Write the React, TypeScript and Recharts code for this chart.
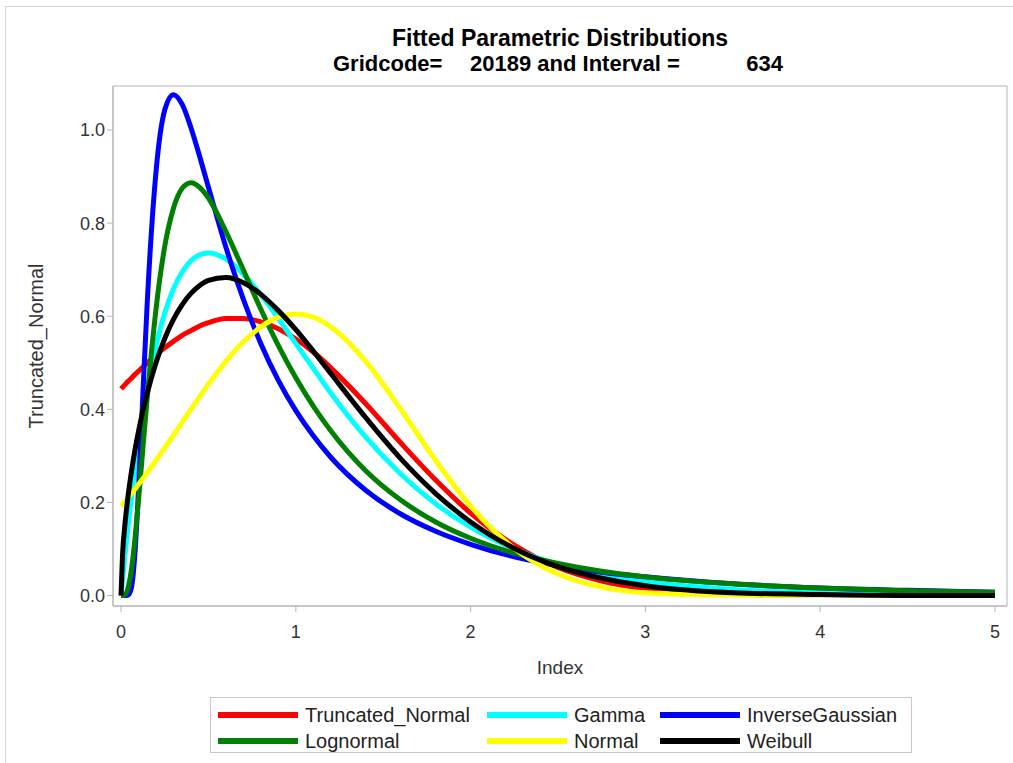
import React from 'react';
import { LineChart, Line, XAxis, YAxis, Legend, ReferenceArea } from 'recharts';

const X = [0, 0.01, 0.02, 0.04, 0.06, 0.08, 0.1, 0.125, 0.15, 0.2, 0.25, 0.3, 0.35, 0.4, 0.45, 0.5, 0.6, 0.7, 0.8, 0.9, 1.0, 1.1, 1.2, 1.4, 1.6, 1.8, 2.0, 2.25, 2.5, 2.75, 3.0, 3.5, 4.0, 4.5, 5.0];

const truncNormal = [0.444, 0.448, 0.452, 0.46, 0.467, 0.475, 0.482, 0.491, 0.5, 0.517, 0.532, 0.546, 0.559, 0.569, 0.579, 0.586, 0.595, 0.595, 0.588, 0.573, 0.551, 0.523, 0.489, 0.412, 0.328, 0.248, 0.177, 0.108, 0.06, 0.031, 0.015, 0.003, 0.0, 0.0, 0.0];
const gamma = [0, 0.039, 0.077, 0.148, 0.213, 0.273, 0.327, 0.389, 0.444, 0.536, 0.607, 0.659, 0.695, 0.719, 0.732, 0.736, 0.723, 0.69, 0.646, 0.595, 0.541, 0.488, 0.435, 0.34, 0.261, 0.197, 0.147, 0.1, 0.067, 0.045, 0.03, 0.013, 0.005, 0.002, 0.001];
const invGauss = [0, 0, 0.0, 0.001, 0.018, 0.093, 0.228, 0.433, 0.63, 0.91, 1.043, 1.076, 1.055, 1.005, 0.943, 0.877, 0.748, 0.636, 0.541, 0.462, 0.397, 0.343, 0.297, 0.226, 0.175, 0.138, 0.11, 0.083, 0.064, 0.05, 0.04, 0.025, 0.016, 0.011, 0.007];
const lognormal = [0, 0, 0.001, 0.016, 0.057, 0.123, 0.205, 0.316, 0.426, 0.615, 0.75, 0.832, 0.875, 0.887, 0.877, 0.854, 0.782, 0.699, 0.615, 0.537, 0.468, 0.407, 0.354, 0.268, 0.205, 0.158, 0.123, 0.091, 0.069, 0.052, 0.04, 0.025, 0.016, 0.01, 0.007];
const normal = [0.192, 0.196, 0.201, 0.21, 0.219, 0.229, 0.239, 0.251, 0.264, 0.29, 0.317, 0.344, 0.372, 0.4, 0.427, 0.454, 0.503, 0.545, 0.577, 0.598, 0.605, 0.598, 0.577, 0.503, 0.4, 0.29, 0.192, 0.101, 0.046, 0.018, 0.006, 0.001, 0.0, 0.0, 0.0];
const weibull = [0, 0.097, 0.144, 0.213, 0.267, 0.313, 0.353, 0.397, 0.435, 0.5, 0.552, 0.593, 0.625, 0.649, 0.666, 0.677, 0.683, 0.672, 0.647, 0.612, 0.571, 0.525, 0.477, 0.382, 0.294, 0.219, 0.158, 0.101, 0.062, 0.037, 0.021, 0.006, 0.002, 0.0, 0.0];

const xTicks = [0, 1, 2, 3, 4, 5];
const yTicks = [0, 0.2, 0.4, 0.6, 0.8, 1.0];

const seriesDefs = [
  { key: 'tn', name: 'Truncated_Normal', values: truncNormal, color: '#ff0000' },
  { key: 'ga', name: 'Gamma', values: gamma, color: '#00ffff' },
  { key: 'ig', name: 'InverseGaussian', values: invGauss, color: '#0000ff' },
  { key: 'ln', name: 'Lognormal', values: lognormal, color: '#008000' },
  { key: 'no', name: 'Normal', values: normal, color: '#ffff00' },
  { key: 'wb', name: 'Weibull', values: weibull, color: '#000000' },
];

const data = X.map((x, i) => {
  const row: Record<string, number> = { x };
  seriesDefs.forEach((s) => { row[s.key] = s.values[i]; });
  return row;
});

const FONT = '"Liberation Sans", Arial, sans-serif';
const X_DOMAIN: [number, number] = [-0.046, 5.069];
const Y_DOMAIN: [number, number] = [-0.0226, 1.0946];
const FRAME = '#b4b4b4';

const renderLegend = (props: any) => {
  const payload: any[] = props.payload || [];
  const ordered = seriesDefs
    .map((s) => payload.find((p) => p.value === s.name) || { value: s.name, color: s.color })
    .filter(Boolean);
  return (
    <div style={{ display: 'grid', gridTemplateColumns: '269px 173px 250px', padding: '4px 0 0 7px', fontFamily: FONT }}>
      {ordered.map((p: any) => (
        <div key={p.value} style={{ display: 'flex', alignItems: 'center', height: 26, whiteSpace: 'nowrap' }}>
          <span style={{ display: 'inline-block', flex: '0 0 80px', width: 80, height: 6, background: p.color, marginRight: 7 }} />
          <span style={{ fontSize: 20, color: '#222', lineHeight: '26px', whiteSpace: 'nowrap' }}>{p.value}</span>
        </div>
      ))}
    </div>
  );
};

export default function App() {
  return (
    <div style={{ position: 'absolute', left: 0, top: 0, width: 1013, height: 763, background: '#fff', overflow: 'hidden', fontFamily: FONT }}>
      <div style={{ position: 'absolute', left: 5, top: 6, width: 1020, height: 780, border: '1px solid #d4d4d4' }} />
      <svg style={{ position: 'absolute', left: 0, top: 0 }} width={1013} height={90}>
        <text x={560} y={46} textAnchor="middle" fontFamily={FONT} fontWeight="bold" fontSize={23} fill="#000">Fitted Parametric Distributions</text>
        <text x={333} y={71} textAnchor="start" fontFamily={FONT} fontWeight="bold" fontSize={22} fill="#000">Gridcode=</text>
        <text x={470} y={71} textAnchor="start" fontFamily={FONT} fontWeight="bold" fontSize={22} fill="#000">20189 and Interval =</text>
        <text x={783} y={71} textAnchor="end" fontFamily={FONT} fontWeight="bold" fontSize={22} fill="#000">634</text>
      </svg>
      <div style={{ position: 'absolute', left: 0, top: 0 }}>
        <LineChart width={1013} height={763} data={data} margin={{ top: 86, right: 6, bottom: 77, left: 0 }}>
          <XAxis
            dataKey="x"
            type="number"
            domain={X_DOMAIN}
            ticks={xTicks}
            allowDataOverflow
            height={80}
            tickSize={6}
            tickMargin={13}
            stroke={FRAME}
            tick={{ fill: '#333', fontSize: 18, fontFamily: FONT }}
            label={(p: any) => {
              const vb = p.viewBox || {};
              return (
                <text x={vb.x + vb.width / 2} y={674} textAnchor="middle" fontFamily={FONT} fontSize={19} fill="#333">Index</text>
              );
            }}
          />
          <YAxis
            type="number"
            domain={Y_DOMAIN}
            ticks={yTicks}
            allowDataOverflow
            width={113}
            tickSize={6}
            tickMargin={2}
            stroke={FRAME}
            tickFormatter={(v: number) => v.toFixed(1)}
            tick={{ fill: '#333', fontSize: 18, fontFamily: FONT }}
            label={(p: any) => {
              const vb = p.viewBox || {};
              const cx = 36;
              const cy = vb.y + vb.height / 2;
              return (
                <text x={cx} y={cy} transform={`rotate(-90 ${cx} ${cy})`} textAnchor="middle" dominantBaseline="central" fontFamily={FONT} fontSize={20} fill="#333">Truncated_Normal</text>
              );
            }}
          />
          <ReferenceArea x1={X_DOMAIN[0]} x2={X_DOMAIN[1]} y1={Y_DOMAIN[0]} y2={Y_DOMAIN[1]} fill="none" fillOpacity={0} stroke={FRAME} strokeWidth={1} ifOverflow="visible" />
          <Legend
            layout="horizontal"
            verticalAlign="middle"
            align="center"
            content={renderLegend}
            wrapperStyle={{ left: 210, top: 697, width: 702, height: 56, border: '1px solid #c8c8c8', boxSizing: 'border-box', background: '#fff' }}
          />
          {seriesDefs.map((s) => (
            <Line
              key={s.key}
              dataKey={s.key}
              name={s.name}
              type="monotone"
              stroke={s.color}
              strokeWidth={5}
              dot={false}
              activeDot={false}
              isAnimationActive={false}
            />
          ))}
        </LineChart>
      </div>
    </div>
  );
}
